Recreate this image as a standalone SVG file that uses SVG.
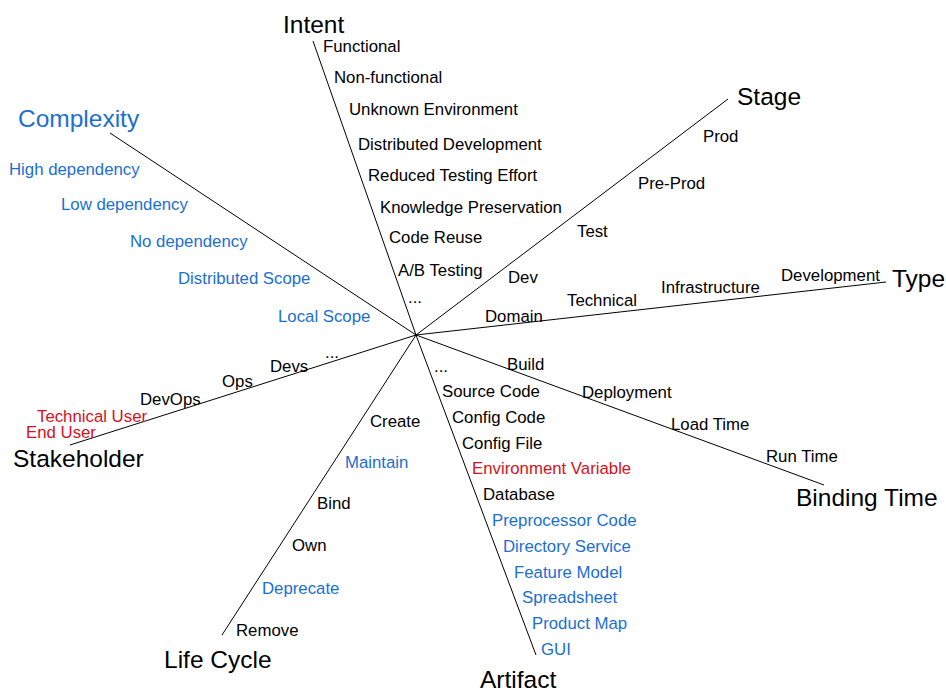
<svg xmlns="http://www.w3.org/2000/svg" width="946" height="697" viewBox="0 0 946 697">
<style>
text{font-family:"Liberation Sans",Arial,sans-serif;font-size:16.8px;fill:#000}
.t{font-size:24.5px}
.b{fill:#1b6fd1}
.r{fill:#d3121c}
.ax{stroke:#000;stroke-width:1;fill:none}
</style>
<rect width="946" height="697" fill="#fff"/>
<g id="connectors">
<line class="ax" x1="416" y1="335" x2="313" y2="41"/>
<line class="ax" x1="416" y1="335" x2="110" y2="133"/>
<line class="ax" x1="416" y1="335" x2="728" y2="99"/>
<line class="ax" x1="416" y1="335" x2="886" y2="282"/>
<line class="ax" x1="416" y1="335" x2="824" y2="485"/>
<line class="ax" x1="416" y1="335" x2="536" y2="655"/>
<line class="ax" x1="416" y1="335" x2="222" y2="635"/>
<line class="ax" x1="416" y1="335" x2="70" y2="445"/>
</g>
<g id="intent">
<text class="t" x="283" y="33">Intent</text>
<text x="323" y="52">Functional</text>
<text x="334" y="83">Non-functional</text>
<text x="349" y="115">Unknown Environment</text>
<text x="358" y="150">Distributed Development</text>
<text x="368" y="181">Reduced Testing Effort</text>
<text x="380" y="213">Knowledge Preservation</text>
<text x="389" y="243">Code Reuse</text>
<text x="398" y="276">A/B Testing</text>
<text x="408" y="303">...</text>
</g>
<g id="complexity">
<text class="t b" x="18" y="127">Complexity</text>
<text class="b" x="9" y="175">High dependency</text>
<text class="b" x="61" y="210">Low dependency</text>
<text class="b" x="130" y="247">No dependency</text>
<text class="b" x="178" y="284">Distributed Scope</text>
<text class="b" x="278" y="322">Local Scope</text>
</g>
<g id="stage">
<text class="t" x="737" y="105">Stage</text>
<text x="703" y="142">Prod</text>
<text x="638" y="189">Pre-Prod</text>
<text x="577" y="237">Test</text>
<text x="508" y="283">Dev</text>
</g>
<g id="type">
<text class="t" x="892" y="287">Type</text>
<text x="781" y="281">Development</text>
<text x="661" y="293">Infrastructure</text>
<text x="567" y="306">Technical</text>
<text x="485" y="322">Domain</text>
</g>
<g id="binding-time">
<text class="t" x="796" y="506">Binding Time</text>
<text x="507" y="370">Build</text>
<text x="582" y="398">Deployment</text>
<text x="671" y="430">Load Time</text>
<text x="766" y="462">Run Time</text>
</g>
<g id="artifact">
<text class="t" x="480" y="688">Artifact</text>
<text x="434" y="372">...</text>
<text x="442" y="397">Source Code</text>
<text x="452" y="423">Config Code</text>
<text x="462" y="449">Config File</text>
<text class="r" x="472" y="474">Environment Variable</text>
<text x="483" y="500">Database</text>
<text class="b" x="492" y="526">Preprocessor Code</text>
<text class="b" x="503" y="552">Directory Service</text>
<text class="b" x="514" y="578">Feature Model</text>
<text class="b" x="522" y="603">Spreadsheet</text>
<text class="b" x="532" y="629">Product Map</text>
<text class="b" x="541" y="655">GUI</text>
</g>
<g id="life-cycle">
<text class="t" x="164" y="668">Life Cycle</text>
<text x="370" y="427">Create</text>
<text class="b" x="345" y="468">Maintain</text>
<text x="317" y="509">Bind</text>
<text x="292" y="551">Own</text>
<text class="b" x="262" y="594">Deprecate</text>
<text x="236" y="636">Remove</text>
</g>
<g id="stakeholder">
<text class="t" x="13" y="467">Stakeholder</text>
<text x="325" y="358">...</text>
<text x="270" y="372">Devs</text>
<text x="222" y="387">Ops</text>
<text x="140" y="405">DevOps</text>
<text class="r" x="37" y="422">Technical User</text>
<text class="r" x="26" y="438">End User</text>
</g>
</svg>
